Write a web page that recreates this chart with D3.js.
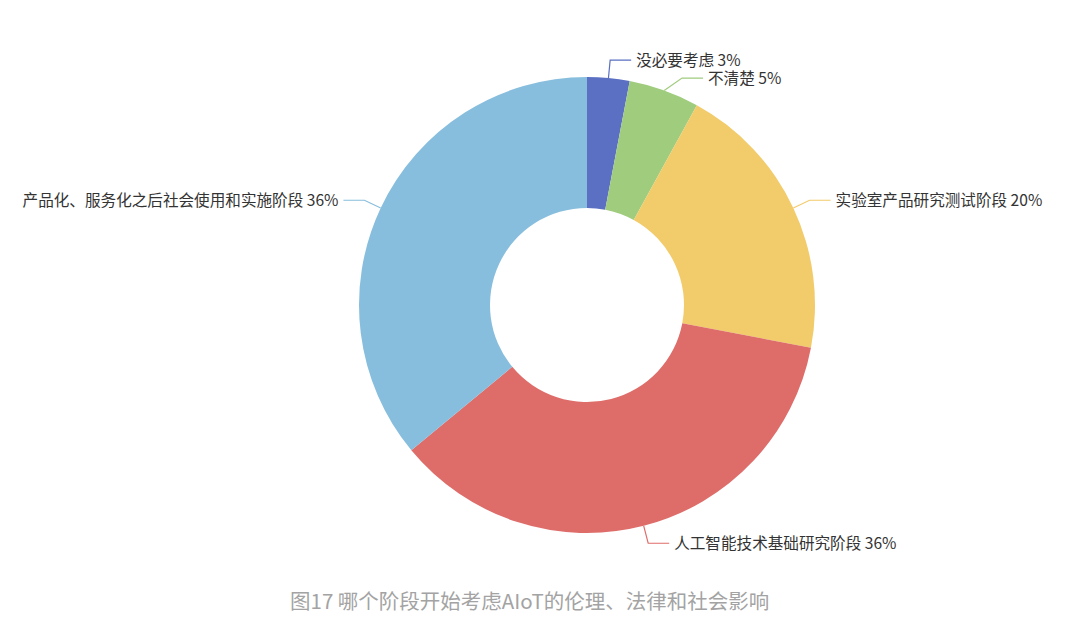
<!DOCTYPE html>
<html>
<head>
<meta charset="utf-8">
<script src="https://cdn.jsdelivr.net/npm/d3@7"></script>
<style>
  body { margin: 0; background: #fff; }
  svg { display: block; }
  text { font-family: "Noto Sans CJK SC", "Noto Sans", sans-serif; }
</style>
</head>
<body>
<svg id="chart" width="1080" height="634"></svg>
<script>
// data
const categories = ["没必要考虑", "不清楚", "实验室产品研究测试阶段", "人工智能技术基础研究阶段", "产品化、服务化之后社会使用和实施阶段"]
const values = [3, 5, 20, 36, 36]
const colors = ["#5b70c3", "#a0cc7e", "#f2cb6a", "#de6d6a", "#88bedd"]
const caption = "图17 哪个阶段开始考虑AIoT的伦理、法律和社会影响"

const width = 1080
const cx = 587, cy = 305
const outerR = 228, innerR = 97
const len1 = 18, len2 = 21
const minGap = 18

const svg = d3.select("#chart")
const g = svg.append("g").attr("transform", `translate(${cx},${cy})`)

const pie = d3.pie().sort(null).value(d => d)
const arcs = pie(values)
const arc = d3.arc().innerRadius(innerR).outerRadius(outerR)

g.selectAll("path.slice")
    .data(arcs)
    .enter()
    .append("path")
    .attr("class", "slice")
    .attr("d", arc)
    .attr("fill", (d, i) => colors[i])

// label layout, echarts-like: radial segment then horizontal one
let labels = arcs.map((d, i) => {
    let mid = (d.startAngle + d.endAngle) / 2
    let sx = Math.sin(mid), sy = -Math.cos(mid)
    let r2 = outerR + len1
    return {
        i: i,
        right: sx >= 0,
        p1: [outerR * sx, outerR * sy],
        y: r2 * sy,
        r2: r2
    }
})

// push labels apart on each side so they don't overlap
for (let side of [true, false]) {
    let group = labels.filter(l => l.right === side).sort((a, b) => a.y - b.y)
    for (let k = 1; k < group.length; k++) {
        if (group[k].y - group[k - 1].y < minGap) {
            group[k].y = group[k - 1].y + minGap
        }
    }
}

labels.forEach(l => {
    let dx = Math.sqrt(Math.max(l.r2 * l.r2 - l.y * l.y, 0))
    let x2 = l.right ? dx : -dx
    let x3 = l.right ? x2 + len2 : x2 - len2
    l.points = [l.p1, [x2, l.y], [x3, l.y]]
    l.tx = l.right ? x3 + 5 : x3 - 5
})

let line = d3.line()

g.selectAll("path.leader")
    .data(labels)
    .enter()
    .append("path")
    .attr("class", "leader")
    .attr("d", l => line(l.points))
    .attr("fill", "none")
    .attr("stroke", l => colors[l.i])
    .attr("stroke-width", 1.2)

g.selectAll("text.label")
    .data(labels)
    .enter()
    .append("text")
    .attr("class", "label")
    .attr("x", l => l.tx)
    .attr("y", l => l.y)
    .attr("dy", "0.36em")
    .attr("text-anchor", l => l.right ? "start" : "end")
    .attr("font-size", 15.6)
    .attr("fill", "#333")
    .text(l => `${categories[l.i]} ${values[l.i]}%`)

svg.append("text")
    .attr("x", 290)
    .attr("y", 609)
    .attr("font-size", 20.5)
    .attr("fill", "#a3a3a3")
    .text(caption)
</script>
</body>
</html>
